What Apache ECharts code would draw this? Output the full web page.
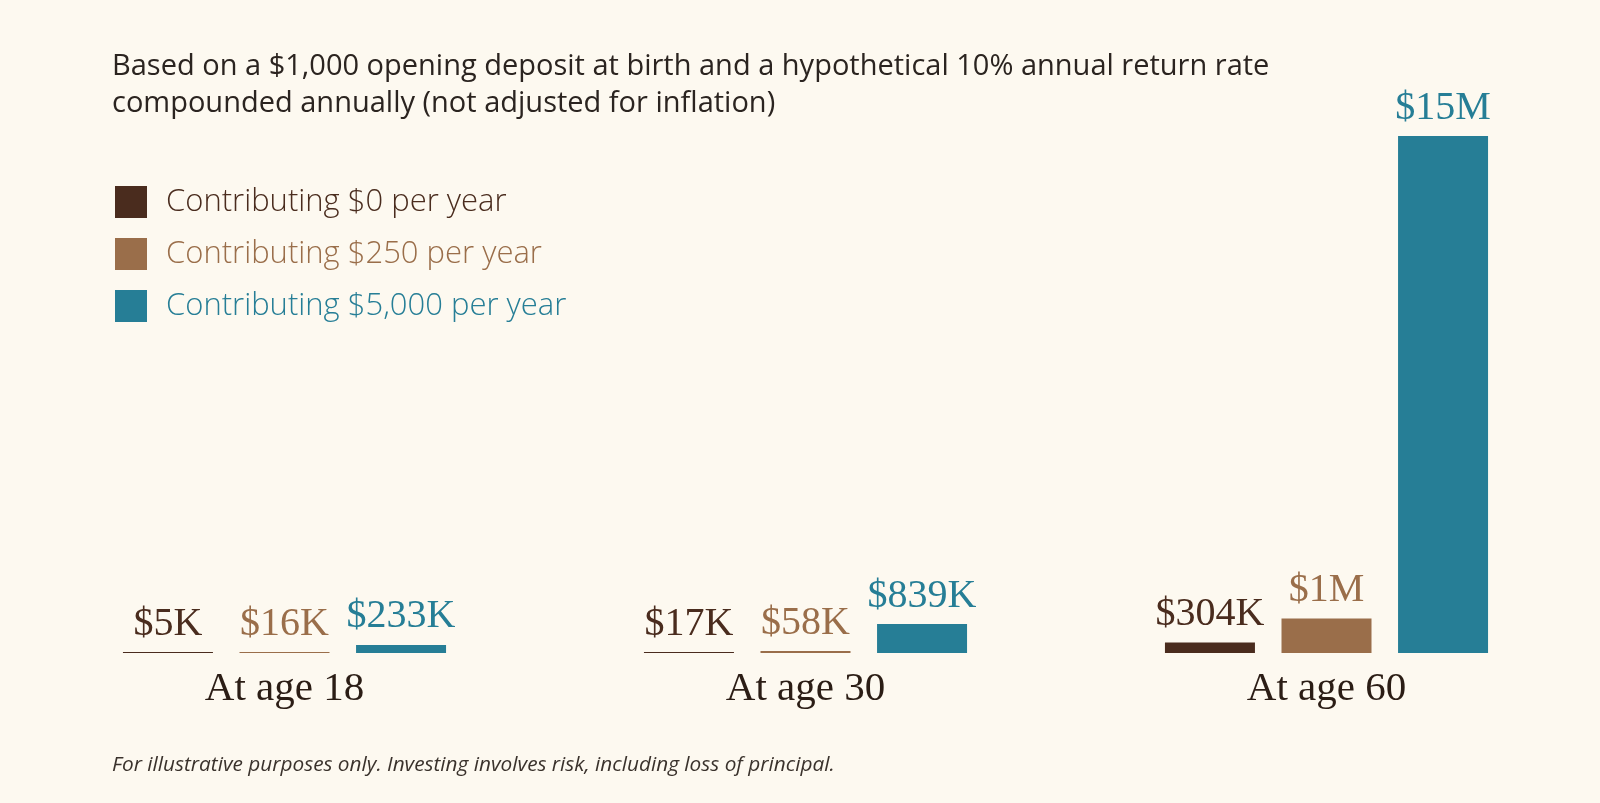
<!DOCTYPE html>
<html><head><meta charset="utf-8">
<script src="https://cdn.jsdelivr.net/npm/echarts@6/dist/echarts.min.js"></script>
<style>html,body{margin:0;background:#fdf9f0}#c{width:1600px;height:803px}</style>
</head><body><div id="c"></div>
<script>
const categories = ['At age 18', 'At age 30', 'At age 60'];
const seriesNames = ['Contributing $0 per year', 'Contributing $250 per year', 'Contributing $5,000 per year'];
const values0 = [5000, 17000, 304000];
const values250 = [16000, 58000, 1000000];
const values5000 = [233000, 839000, 15000000];
const labels0 = ['$5K', '$17K', '$304K'];
const labels250 = ['$16K', '$58K', '$1M'];
const labels5000 = ['$233K', '$839K', '$15M'];
const colors = ['#4a2c1e', '#9a6e4a', '#267e96'];
const serif = 'Liberation Serif';
const sets = [[values0, labels0], [values250, labels250], [values5000, labels5000]];
const chart = echarts.init(document.getElementById('c'));
chart.setOption({
  backgroundColor: '#fdf9f0',
  title: [{
    text: 'Based on a $1,000 opening deposit at birth and a hypothetical 10% annual return rate\ncompounded annually (not adjusted for inflation)',
    left: 107, top: 43, textStyle: {fontFamily: 'Open Sans', fontWeight: 'normal', fontSize: 29, lineHeight: 37, color: '#2b2420'}
  }, {
    text: 'For illustrative purposes only. Investing involves risk, including loss of principal.',
    left: 107, top: 750, textStyle: {fontFamily: 'Open Sans', fontStyle: 'italic', fontWeight: 'normal', fontSize: 20.8, color: '#3a322c'}
  }],
  legend: {
    orient: 'vertical', left: 110, top: 181, itemWidth: 32, itemHeight: 32, itemGap: 20, icon: 'rect',
    textStyle: {fontFamily: 'Open Sans', fontWeight: 300, fontSize: 31, padding: [0, 0, 0, 14]},
    data: seriesNames.map((n, i) => ({name: n, textStyle: {color: colors[i]}}))
  },
  grid: {left: 24, right: 13, top: 136, bottom: 150},
  xAxis: {type: 'category', data: categories, axisLine: {show: false}, axisTick: {show: false},
    axisLabel: {fontFamily: serif, fontSize: 41, color: '#2b1d15', margin: 16}},
  yAxis: {type: 'value', min: 0, max: 15000000, show: false, splitLine: {show: false}},
  series: sets.map((s, i) => ({
    name: seriesNames[i], type: 'bar', data: s[0], barWidth: 90, barGap: '29.5%', barMinHeight: 1,
    itemStyle: {color: colors[i]},
    label: {show: true, position: 'top', distance: 8, fontFamily: serif, fontSize: 40, color: colors[i],
      formatter: p => s[1][p.dataIndex]}
  }))
});
</script></body></html>
